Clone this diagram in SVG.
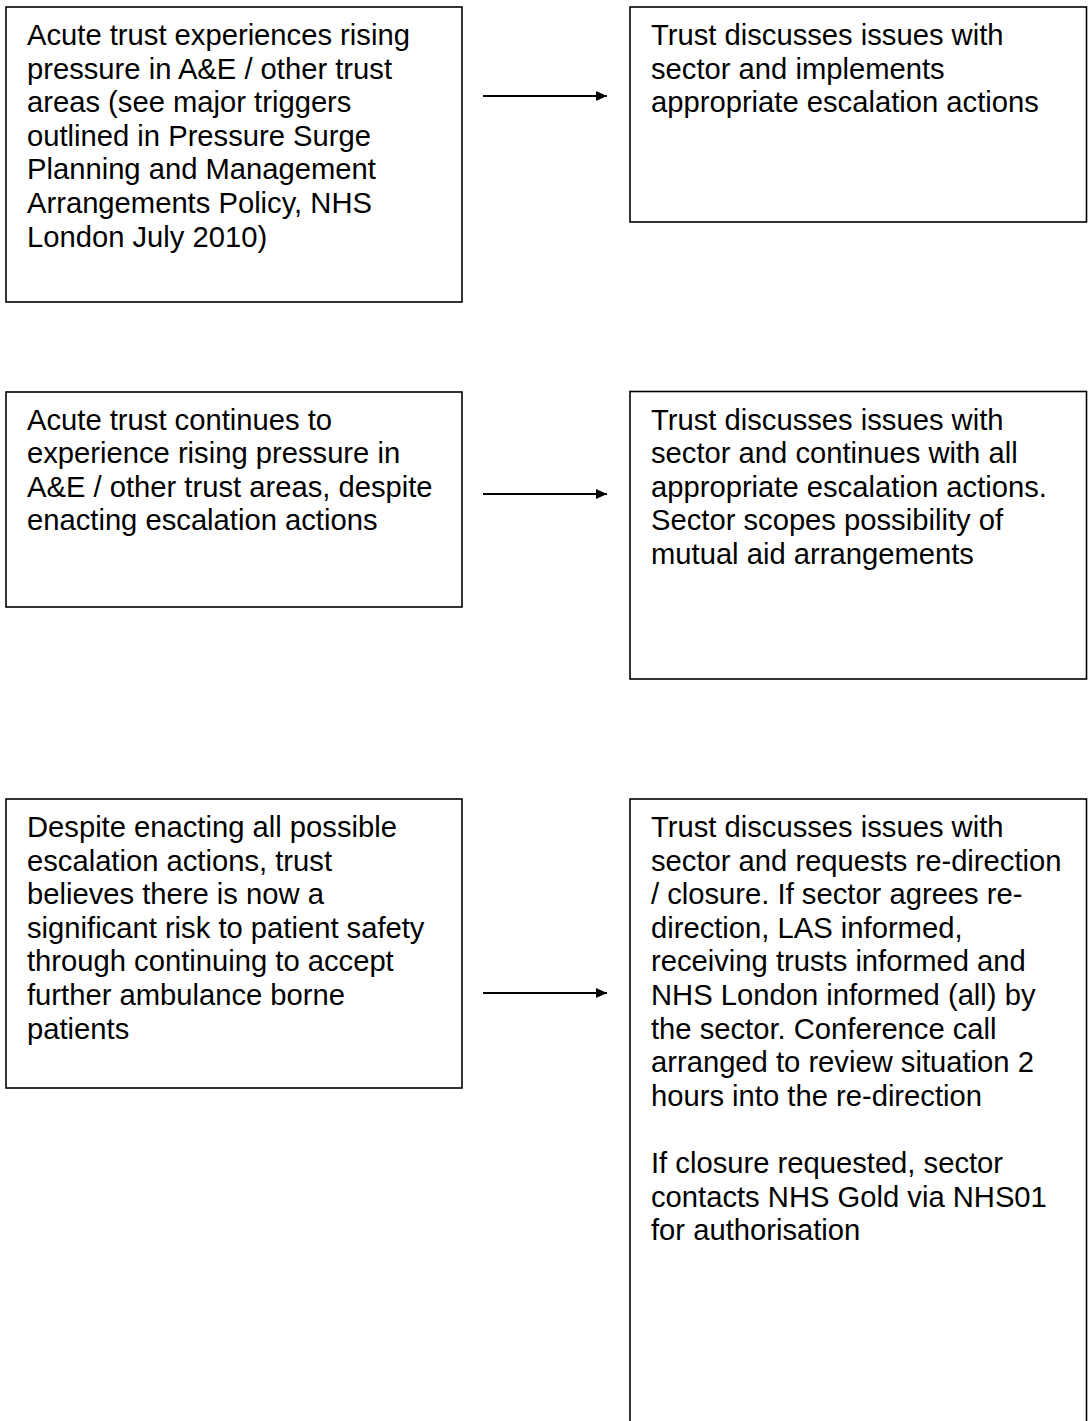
<svg xmlns="http://www.w3.org/2000/svg" width="1091" height="1421" viewBox="0 0 1091 1421">
<style>
.box{fill:#fff;stroke:#000;stroke-width:1.6}
.t{font-family:"Liberation Sans",Arial,sans-serif;font-size:29.2px;fill:#000}
.conn{stroke:#000;stroke-width:2;fill:none}
</style>
<defs>
<marker id="ah" markerUnits="userSpaceOnUse" markerWidth="12" markerHeight="10" refX="11" refY="5" orient="auto">
<path d="M0,0 L11,5 L0,10 Z" fill="#000"/>
</marker>
</defs>
<rect width="1091" height="1421" fill="#fff"/>
<g id="n1">
<rect class="box" x="6" y="7" width="456" height="295"/>
<text class="t" x="27" y="45">
<tspan x="27">Acute trust experiences rising</tspan>
<tspan x="27" dy="33.6">pressure in A&amp;E / other trust</tspan>
<tspan x="27" dy="33.6">areas (see major triggers</tspan>
<tspan x="27" dy="33.6">outlined in Pressure Surge</tspan>
<tspan x="27" dy="33.6">Planning and Management</tspan>
<tspan x="27" dy="33.6">Arrangements Policy, NHS</tspan>
<tspan x="27" dy="33.6">London July 2010)</tspan>
</text>
</g>
<g id="n2">
<rect class="box" x="630" y="7" width="456.5" height="215"/>
<text class="t" x="651" y="45">
<tspan x="651">Trust discusses issues with</tspan>
<tspan x="651" dy="33.6">sector and implements</tspan>
<tspan x="651" dy="33.6">appropriate escalation actions</tspan>
</text>
</g>
<g id="n3">
<rect class="box" x="6" y="392" width="456" height="215"/>
<text class="t" x="27" y="429.5">
<tspan x="27">Acute trust continues to</tspan>
<tspan x="27" dy="33.6">experience rising pressure in</tspan>
<tspan x="27" dy="33.6">A&amp;E / other trust areas, despite</tspan>
<tspan x="27" dy="33.6">enacting escalation actions</tspan>
</text>
</g>
<g id="n4">
<rect class="box" x="630" y="391.5" width="456.5" height="287.5"/>
<text class="t" x="651" y="429.5">
<tspan x="651">Trust discusses issues with</tspan>
<tspan x="651" dy="33.6">sector and continues with all</tspan>
<tspan x="651" dy="33.6">appropriate escalation actions.</tspan>
<tspan x="651" dy="33.6">Sector scopes possibility of</tspan>
<tspan x="651" dy="33.6">mutual aid arrangements</tspan>
</text>
</g>
<g id="n5">
<rect class="box" x="6" y="799" width="456" height="289"/>
<text class="t" x="27" y="837">
<tspan x="27">Despite enacting all possible</tspan>
<tspan x="27" dy="33.6">escalation actions, trust</tspan>
<tspan x="27" dy="33.6">believes there is now a</tspan>
<tspan x="27" dy="33.6">significant risk to patient safety</tspan>
<tspan x="27" dy="33.6">through continuing to accept</tspan>
<tspan x="27" dy="33.6">further ambulance borne</tspan>
<tspan x="27" dy="33.6">patients</tspan>
</text>
</g>
<g id="n6">
<rect class="box" x="630" y="799" width="456.5" height="640"/>
<text class="t" x="651" y="837">
<tspan x="651">Trust discusses issues with</tspan>
<tspan x="651" dy="33.6">sector and requests re-direction</tspan>
<tspan x="651" dy="33.6">/ closure. If sector agrees re-</tspan>
<tspan x="651" dy="33.6">direction, LAS informed,</tspan>
<tspan x="651" dy="33.6">receiving trusts informed and</tspan>
<tspan x="651" dy="33.6">NHS London informed (all) by</tspan>
<tspan x="651" dy="33.6">the sector. Conference call</tspan>
<tspan x="651" dy="33.6">arranged to review situation 2</tspan>
<tspan x="651" dy="33.6">hours into the re-direction</tspan>
<tspan x="651" dy="67.2">If closure requested, sector</tspan>
<tspan x="651" dy="33.6">contacts NHS Gold via NHS01</tspan>
<tspan x="651" dy="33.6">for authorisation</tspan>
</text>
</g>
<g id="connectors">
<line class="conn" x1="483" y1="96" x2="607" y2="96" marker-end="url(#ah)"/>
<line class="conn" x1="483" y1="494" x2="607" y2="494" marker-end="url(#ah)"/>
<line class="conn" x1="483" y1="993" x2="607" y2="993" marker-end="url(#ah)"/>
</g>
</svg>
